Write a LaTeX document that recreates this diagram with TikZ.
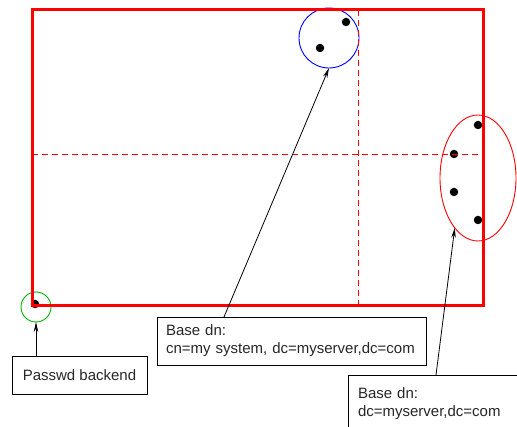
\documentclass[tikz,border=0pt]{standalone}
\usepackage{fontspec}
\setmainfont{Liberation Sans}
\usetikzlibrary{shapes.geometric,arrows.meta}

\begin{document}
\begin{tikzpicture}[x=1pt, y=-1pt,
    dot/.style={circle, fill=black, inner sep=0pt, minimum size=8.5pt},
    ring/.style={circle, draw, line width=0.9pt, inner sep=0pt, outer sep=0pt},
    labelbox/.style={draw, line width=0.8pt, inner sep=0pt, outer sep=0pt,
      font=\fontsize{15}{18}\selectfont, text=black!85},
    pointer/.style={draw, line width=0.8pt, -{Stealth[length=10pt, width=4.5pt]}}]
    \clip (0,0) rectangle (517,427);
    \node[ring, draw=blue, minimum size=60pt] (ou) at (329,38) {};
    \node[dot] (ou1) at (346,22) {};
    \node[dot] (ou2) at (320,48) {};
    \node[ellipse, draw=red, line width=0.9pt, inner sep=0pt, outer sep=0pt,
      minimum width=76pt, minimum height=126pt] (dcs) at (478,178) {};
    \node[dot] (dc1) at (478,125) {};
    \node[dot] (dc2) at (454,154) {};
    \node[dot] (dc3) at (454,192) {};
    \node[dot] (dc4) at (478,220) {};
    \node[ring, draw=green!70!black, minimum size=30pt] (pw) at (36,307) {};
    \node[dot] (pw1) at (35,304) {};
    \draw[red, dash pattern=on 6pt off 4pt, line width=0.9pt] (32,154) -- (483,154);
    \draw[red, dash pattern=on 6pt off 4pt, line width=0.9pt] (358,10) -- (358,306);
    \draw[red, line width=3pt] (32,10) rectangle (483,306);
    \node[labelbox, minimum width=135pt, minimum height=38pt] (pwbox) at (79.5,375) {Passwd backend};
    \node[labelbox, inner xsep=9pt, text width=251pt, align=left, minimum height=48pt] (base1) at (291.5,341) {
      Base dn:\\
      cn=my system, dc=myserver,dc=com
    };
    \node[labelbox, anchor=north west, inner xsep=10pt, inner ysep=13pt, text width=200pt, align=left] (base2) at (348,375) {
      Base dn:\\
      dc=myserver,dc=com\\
      \strut
    };
    \draw[pointer] (pwbox.north -| pw) -- (pw.south);
    \draw[pointer] ([xshift=67pt]base1.north west) -- (ou.south);
    \draw[pointer] ([xshift=88pt]base2.north west) -- (dcs.245);
  \end{tikzpicture}
\end{document}
